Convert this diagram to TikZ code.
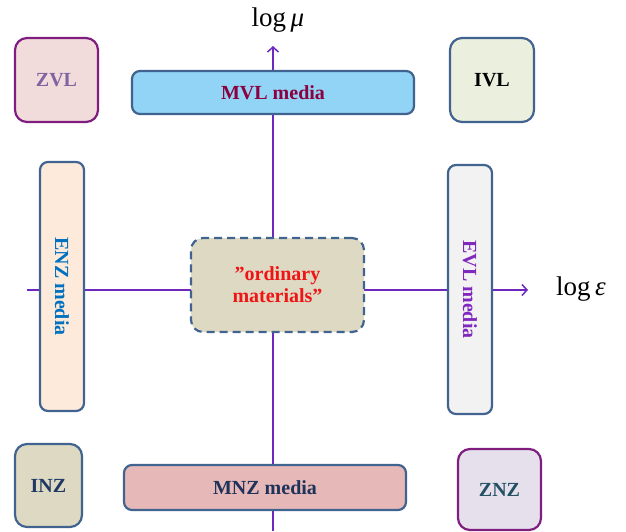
\documentclass[tikz,border=0pt]{standalone}
\usepackage{fontspec}
\setmainfont{Liberation Serif}
\usetikzlibrary{positioning,arrows.meta}

\definecolor{edgeblue}{RGB}{65,99,143}
\definecolor{edgepurple}{RGB}{128,30,128}
\definecolor{axiscol}{RGB}{110,40,190}

\tikzset{
  cell/.style={draw=edgeblue, line width=2.2pt, rounded corners=12pt,
    font=\fontsize{20}{22}\selectfont\bfseries, align=center, inner sep=0pt},
  bar/.style={cell, rounded corners=8pt},
  axis/.style={draw=axiscol, line width=1.5pt, -{Straight Barb[length=5pt,width=11pt]}},
  axlabel/.style={font=\fontsize{27}{30}\selectfont}
}

\begin{document}
\begin{tikzpicture}[x=1pt,y=-1pt]
        \useasboundingbox (0,0) rectangle (626,531);
        % axes first, boxes on top
        \coordinate (ybot) at (273,531);
        \coordinate (ytop) at (273,46);
        \coordinate (xleft) at (27,290);
        \coordinate (xright) at (528,290);
        \draw[axis] (ybot) -- (ytop);
        \draw[axis] (xleft) -- (xright);
        \node[axlabel] (mulab) at (278,20) {log\,\textit{μ}};
        \node[axlabel] (epslab) at (581,289) {log\,\textit{ε}};

        % corners
        \node[cell, draw=edgepurple, fill={rgb,255:red,242;green,220;blue,219},
          text={rgb,255:red,128;green,100;blue,162},
          minimum width=83pt, minimum height=84pt] (zvl) at (56.5,80) {ZVL};
        \node[cell, fill={rgb,255:red,235;green,240;blue,222}, text=black,
          minimum width=84pt, minimum height=84pt] (ivl) at (492,80) {IVL};
        \node[cell, fill={rgb,255:red,221;green,217;blue,195},
          text={rgb,255:red,31;green,56;blue,100},
          minimum width=67pt, minimum height=83pt] (inz) at (48.5,485.5) {INZ};
        \node[cell, draw=edgepurple, fill={rgb,255:red,229;green,224;blue,236},
          text={rgb,255:red,35;green,80;blue,100},
          minimum width=83pt, minimum height=81pt] (znz) at (499.5,489.5) {ZNZ};

        % media bars
        \node[bar, fill={rgb,255:red,146;green,212;blue,245},
          text={rgb,255:red,139;green,0;blue,64},
          minimum width=282pt, minimum height=43pt] (mvl) at (273,92.5) {MVL media};
        \node[bar, fill={rgb,255:red,230;green,185;blue,184},
          text={rgb,255:red,31;green,50;blue,90},
          minimum width=282pt, minimum height=45pt] (mnz) at (265,487.5) {MNZ media};
        \node[bar, rotate=-90, fill={rgb,255:red,253;green,234;blue,218},
          text={rgb,255:red,0;green,112;blue,192},
          minimum width=249pt, minimum height=44pt] (enz) at (62,286.5) {ENZ media};
        \node[bar, rotate=-90, fill={rgb,255:red,242;green,242;blue,242},
          text={rgb,255:red,128;green,40;blue,190},
          minimum width=249pt, minimum height=44pt] (evl) at (470,289.5) {EVL media};

        % centre
        \node[cell, dash pattern=on 8pt off 5pt, fill={rgb,255:red,221;green,217;blue,195},
          text={rgb,255:red,240;green,20;blue,20},
          minimum width=173pt, minimum height=94pt] (ord) at (277.5,285) {”ordinary\\materials”};
    \end{tikzpicture}
\end{document}
